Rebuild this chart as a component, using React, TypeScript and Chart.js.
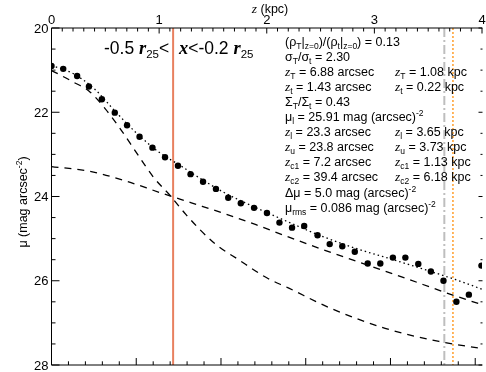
import React, { useEffect, useRef } from "react";
import { Chart, registerables } from "chart.js";
Chart.register(...registerables);

// ---------- data ----------
// observed surface-brightness points: height z (kpc) and mu (mag arcsec^-2)
const zDots = [0.0, 0.109, 0.238, 0.348, 0.468, 0.588, 0.702, 0.818, 0.938, 1.055, 1.175, 1.292, 1.408, 1.528, 1.642, 1.759, 1.882, 2.002, 2.118, 2.235, 2.348, 2.472, 2.585, 2.702, 2.818, 2.938, 3.055, 3.172, 3.288, 3.408, 3.525, 3.642, 3.762, 3.878, 3.995];
const muDots = [20.9, 20.97, 21.14, 21.39, 21.69, 22.01, 22.31, 22.58, 22.84, 23.07, 23.27, 23.47, 23.65, 23.82, 24.03, 24.16, 24.27, 24.39, 24.62, 24.74, 24.7, 24.92, 25.13, 25.18, 25.31, 25.59, 25.59, 25.45, 25.45, 25.6, 25.78, 26.0, 26.5, 26.33, 25.64];

// thin-disc fit (steep dashed)
const zThin = [0, 0.1, 0.2, 0.35, 0.5, 0.63, 0.8, 0.95, 1.1, 1.25, 1.5, 1.75, 2.0, 2.2, 2.6, 3.1, 3.6, 4.0];
const muThin = [21.01, 21.14, 21.28, 21.5, 21.92, 22.36, 23.0, 23.55, 23.97, 24.43, 25.08, 25.52, 25.93, 26.17, 26.66, 27.13, 27.44, 27.61];

// thick-disc fit (shallow dashed)
const zThick = [0, 0.35, 0.7, 1.0, 1.3, 1.6, 1.9, 2.2, 2.5, 2.85, 3.3, 3.65, 4.0];
const muThick = [23.29, 23.4, 23.64, 23.9, 24.15, 24.4, 24.67, 24.96, 25.24, 25.55, 25.95, 26.27, 26.57];

// total fit (dotted)
const zTotal = [0, 0.2, 0.4, 0.6, 0.8, 1.0, 1.2, 1.4, 1.6, 1.8, 2.0, 2.25, 2.5, 2.85, 3.15, 3.45, 3.75, 4.0];
const muTotal = [20.89, 21.08, 21.45, 22.0, 22.52, 22.95, 23.27, 23.6, 23.9, 24.15, 24.38, 24.66, 24.93, 25.25, 25.48, 25.72, 25.97, 26.2];

// vertical markers: z_c1, z_l, z_u (kpc)
const zMarkers = [1.13, 3.65, 3.73];
const muRange = [20, 28];
const zRange = [0, 4];
const ARCSEC_PER_KPC = 6.35;
const xMajorTicks = [0, 1, 2, 3, 4];
const yMajorTicks = [20, 22, 24, 26, 28];

// ---------- text helpers ----------
const SANS = "'Liberation Sans', Arial, Helvetica, sans-serif";
const SERIF = "'Liberation Serif', 'Times New Roman', serif";
type Seg = { t: string; font: string; dy: number };
const N = (t: string): Seg => ({ t, font: `12.5px ${SANS}`, dy: 0 });
const SB = (t: string): Seg => ({ t, font: `8.5px ${SANS}`, dy: 3 });
const SP = (t: string): Seg => ({ t, font: `8.5px ${SANS}`, dy: -5 });
const Z = (): Seg => ({ t: "z", font: `italic 13.5px ${SERIF}`, dy: 0 });

function measureRich(ctx: CanvasRenderingContext2D, segs: Seg[]) {
  let w = 0;
  for (const s of segs) { ctx.font = s.font; w += ctx.measureText(s.t).width; }
  return w;
}
function drawRich(ctx: CanvasRenderingContext2D, x: number, y: number, segs: Seg[]) {
  let cx = x;
  for (const s of segs) {
    ctx.font = s.font;
    ctx.fillText(s.t, cx, y + s.dy);
    cx += ctx.measureText(s.t).width;
  }
  return cx - x;
}

const col1: Seg[][] = [
  [N("(ρ"), SB("T"), N("|"), SB("z=0"), N(")/(ρ"), SB("t"), N("|"), SB("z=0"), N(") = 0.13")],
  [N("σ"), SB("T"), N("/σ"), SB("t"), N(" = 2.30")],
  [Z(), SB("T"), N(" = 6.88 arcsec")],
  [Z(), SB("t"), N(" = 1.43 arcsec")],
  [N("Σ"), SB("T"), N("/Σ"), SB("t"), N(" = 0.43")],
  [N("μ"), SB("l"), N(" = 25.91 mag (arcsec)"), SP("-2")],
  [Z(), SB("l"), N(" = 23.3 arcsec")],
  [Z(), SB("u"), N(" = 23.8 arcsec")],
  [Z(), SB("c1"), N(" = 7.2 arcsec")],
  [Z(), SB("c2"), N(" = 39.4 arcsec")],
  [N("Δμ = 5.0 mag (arcsec)"), SP("-2")],
  [N("μ"), SB("rms"), N(" = 0.086 mag (arcsec)"), SP("-2")],
];
const col2: (Seg[] | null)[] = [
  null, null,
  [Z(), SB("T"), N(" = 1.08 kpc")],
  [Z(), SB("t"), N(" = 0.22 kpc")],
  null, null,
  [Z(), SB("l"), N(" = 3.65 kpc")],
  [Z(), SB("u"), N(" = 3.73 kpc")],
  [Z(), SB("c1"), N(" = 1.13 kpc")],
  [Z(), SB("c2"), N(" = 6.18 kpc")],
  null, null,
];

const BIG = `17.5px ${SANS}`;
const BIGR = `bold italic 18.5px ${SERIF}`;
const BIGSUB = `11.5px ${SANS}`;
const mainLabel: Seg[] = [
  { t: "-0.5 ", font: BIG, dy: 0 },
  { t: "r", font: BIGR, dy: 0 },
  { t: "25", font: BIGSUB, dy: 4 },
  { t: "<  ", font: BIG, dy: 0 },
  { t: "x", font: BIGR, dy: 0 },
  { t: "<-0.2 ", font: BIG, dy: 0 },
  { t: "r", font: BIGR, dy: 0 },
  { t: "25", font: BIGSUB, dy: 4 },
];

const pts = (xs: number[], ys: number[]) => xs.map((x, i) => ({ x, y: ys[i] }));

const decorPlugin = {
  id: "decor",
  afterDraw(chart: any) {
    const ctx: CanvasRenderingContext2D = chart.ctx;
    const { left, right, top, bottom } = chart.chartArea;
    const sx = chart.scales.x, sxb = chart.scales.xb, sy = chart.scales.y;
    ctx.save();
    ctx.strokeStyle = "#000";
    ctx.lineWidth = 1;
    // frame (left, top, bottom)
    ctx.beginPath();
    ctx.moveTo(left, top); ctx.lineTo(right, top);
    ctx.moveTo(left, top); ctx.lineTo(left, bottom);
    ctx.moveTo(left, bottom); ctx.lineTo(right, bottom);
    ctx.stroke();
    ctx.beginPath();
    // top axis ticks (kpc)
    for (let i = 0; i <= 40; i++) {
      const v = i / 10;
      const px = sx.getPixelForValue(v);
      const len = i % 10 === 0 ? 5.5 : 3.5;
      ctx.moveTo(px, top); ctx.lineTo(px, top + len);
    }
    // bottom axis ticks (arcsec)
    for (let a = 0; a <= zRange[1] * ARCSEC_PER_KPC; a += 1) {
      const px = sxb.getPixelForValue(a);
      const len = a % 5 === 0 ? 7 : 3.7;
      ctx.moveTo(px, bottom); ctx.lineTo(px, bottom - len);
    }
    // left / right axis ticks
    for (let i = 0; i <= 16; i++) {
      const v = muRange[0] + i * 0.5;
      const py = sy.getPixelForValue(v);
      const len = i % 4 === 0 ? 8 : 4;
      ctx.moveTo(left, py); ctx.lineTo(left + len, py);
      const rl = i % 4 === 0 ? 4 : 2;
      ctx.moveTo(right + 0.5, py); ctx.lineTo(right + 0.5 - rl, py);
    }
    ctx.stroke();

    ctx.fillStyle = "#000";
    // tick labels
    ctx.font = `13px ${SANS}`;
    ctx.textBaseline = "alphabetic";
    ctx.textAlign = "center";
    xMajorTicks.forEach((v) => ctx.fillText(String(v), sx.getPixelForValue(v), 23.5));
    ctx.textAlign = "right";
    yMajorTicks.forEach((v) => ctx.fillText(String(v), left - 3, sy.getPixelForValue(v) + 4.6));
    ctx.textAlign = "left";
    // top title
    const tSegs: Seg[] = [{ t: "z", font: `italic 13.5px ${SERIF}`, dy: 0 }, N(" (kpc)")];
    const tw = measureRich(ctx, tSegs);
    drawRich(ctx, 270 - tw / 2, 12.5, tSegs);
    // y title
    const ySegs: Seg[] = [N("μ (mag arcsec"), SP("-2"), N(")")];
    const yw = measureRich(ctx, ySegs);
    ctx.save();
    ctx.translate(26.5, 202 + yw / 2);
    ctx.rotate(-Math.PI / 2);
    drawRich(ctx, 0, 0, ySegs);
    ctx.restore();
    // main label
    drawRich(ctx, 104, 54, mainLabel);
    // annotation block
    const y0 = 45.5, step = 15.1;
    col1.forEach((segs, i) => drawRich(ctx, 285, y0 + i * step, segs));
    col2.forEach((segs, i) => { if (segs) drawRich(ctx, 395, y0 + i * step, segs); });
    ctx.restore();
  },
};

export default function App() {
  const ref = useRef<HTMLCanvasElement>(null);
  useEffect(() => {
    document.body.style.margin = "0";
    const lineBase = { showLine: true, pointRadius: 0, fill: false, xAxisID: "x", yAxisID: "y" };
    const markerColors = ["#E8805F", "#BEBEBE", "#FF9E2C"];
    const markerDash = [[], [9, 3, 2, 3], [2, 2]];
    const markerWidth = [2, 2, 1.5];
    const chart = new Chart(ref.current!, {
      type: "scatter",
      data: {
        datasets: [
          { ...lineBase, data: pts(zDots, muDots), showLine: false, pointRadius: 3.2, pointBackgroundColor: "#000", pointBorderWidth: 0, borderColor: "#000" },
          { ...lineBase, data: pts(zTotal, muTotal), borderColor: "#000", borderWidth: 1.3, borderDash: [1.5, 3], cubicInterpolationMode: "monotone" },
          { ...lineBase, data: pts(zThin, muThin), borderColor: "#000", borderWidth: 1.3, borderDash: [7, 6], cubicInterpolationMode: "monotone" },
          { ...lineBase, data: pts(zThick, muThick), borderColor: "#000", borderWidth: 1.3, borderDash: [7, 6], cubicInterpolationMode: "monotone" },
          ...zMarkers.map((z, i) => ({
            ...lineBase,
            data: [{ x: z, y: muRange[0] }, { x: z, y: muRange[1] }],
            borderColor: markerColors[i],
            borderWidth: markerWidth[i],
            borderDash: markerDash[i],
          })),
        ] as any,
      },
      options: {
        responsive: false,
        animation: false,
        devicePixelRatio: 1,
        layout: { padding: { left: 0, right: 0.5, top: 0, bottom: 0 } },
        plugins: { legend: { display: false }, tooltip: { enabled: false } },
        events: [],
        scales: {
          x: {
            type: "linear", position: "top", min: zRange[0], max: zRange[1],
            ticks: { display: false },
            grid: { display: false, drawTicks: false },
            border: { display: false },
            afterFit: (s: any) => { s.height = 28; s.paddingLeft = 0; s.paddingRight = 0; },
          },
          xb: {
            type: "linear", position: "bottom", min: 0, max: zRange[1] * ARCSEC_PER_KPC,
            ticks: { display: false },
            grid: { display: false, drawTicks: false },
            border: { display: false },
            afterFit: (s: any) => { s.height = 7; s.paddingLeft = 0; s.paddingRight = 0; },
          },
          y: {
            type: "linear", position: "left", reverse: true, min: muRange[0], max: muRange[1],
            ticks: { display: false },
            grid: { display: false, drawTicks: false },
            border: { display: false },
            afterFit: (s: any) => { s.width = 51.5; s.paddingTop = 0; s.paddingBottom = 0; },
          },
        } as any,
      },
      plugins: [decorPlugin],
    });
    return () => chart.destroy();
  }, []);
  return <canvas ref={ref} width={486} height={372} style={{ display: "block", width: 486, height: 372 }} />;
}
